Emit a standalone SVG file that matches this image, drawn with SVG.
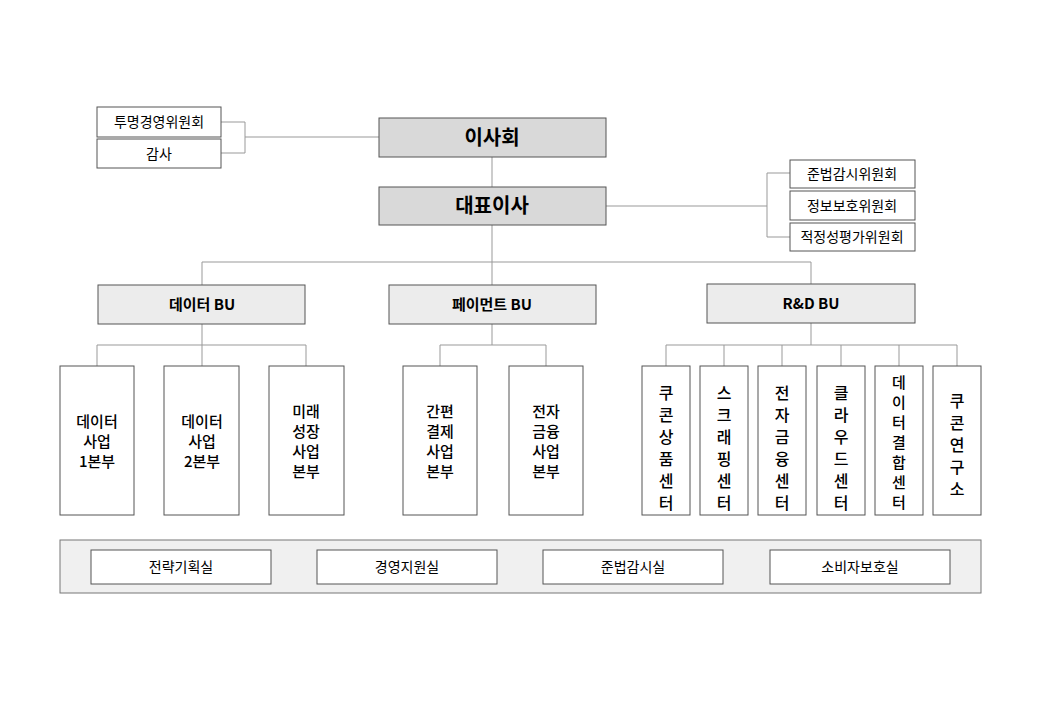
<svg xmlns="http://www.w3.org/2000/svg" width="1040" height="720" viewBox="0 0 1040 720">
<style>
text{font-family:"Noto Sans CJK KR","Noto Sans",sans-serif;fill:#000;text-anchor:middle}
.box{fill:#fff;stroke:#555;stroke-width:1}
.top{fill:#d9d9d9;stroke:#555}
.bu{fill:#ececec;stroke:#555}
.c{fill:none;stroke:#999;stroke-width:1}
.s{font-size:14px}
.t{font-size:20px;font-weight:bold}
.b{font-size:15px;font-weight:bold}
.v{font-size:15px;font-weight:500}
.w{font-size:16px;font-weight:500}
.x{font-size:15px;font-weight:500}
</style>
<rect width="1040" height="720" fill="#fff"/>
<g id="connectors" class="c">
<path d="M221 122H245V153H221M245 137H379"/>
<path d="M492 157V187"/>
<path d="M606 206H767M790 173H767V237H790"/>
<path d="M492 225V285M202 262H811V284M202 262V285"/>
<path d="M202 324V345M97 366V345H306V366M202 345V366"/>
<path d="M492 324V345M440 366V345H546V366"/>
<path d="M811 323V345M666 366V345H957V366M724 345V366M782 345V366M841 345V366M899 345V366"/>
</g>
<g id="n1"><rect class="box" x="97" y="107" width="124" height="30"/><text class="s" x="159" y="127">투명경영위원회</text></g>
<g id="n2"><rect class="box" x="97" y="139" width="124" height="29"/><text class="s" x="159" y="159">감사</text></g>
<g id="board"><rect class="top" x="379" y="118" width="227" height="39"/><text class="t" x="492" y="145">이사회</text></g>
<g id="ceo"><rect class="top" x="379" y="187" width="227" height="38"/><text class="t" x="492" y="213">대표이사</text></g>
<g id="r1"><rect class="box" x="790" y="160" width="125" height="28"/><text class="s" x="852" y="179">준법감시위원회</text></g>
<g id="r2"><rect class="box" x="790" y="191" width="125" height="29"/><text class="s" x="852" y="211">정보보호위원회</text></g>
<g id="r3"><rect class="box" x="790" y="223" width="125" height="28"/><text class="s" x="852" y="242">적정성평가위원회</text></g>
<g id="bu1"><rect class="bu" x="98" y="285" width="207" height="39"/><text class="b" x="202" y="310">데이터 BU</text></g>
<g id="bu2"><rect class="bu" x="389" y="285" width="207" height="39"/><text class="b" x="492" y="310">페이먼트 BU</text></g>
<g id="bu3"><rect class="bu" x="707" y="284" width="208" height="39"/><text class="b" x="811" y="309">R&amp;D BU</text></g>
<g id="d1"><rect class="box" x="60" y="366" width="74" height="149"/><text class="v" x="97" y="427">데이터</text><text class="v" x="97" y="447">사업</text><text class="v" x="97" y="467">1본부</text></g>
<g id="d2"><rect class="box" x="164" y="366" width="75" height="149"/><text class="v" x="202" y="427">데이터</text><text class="v" x="202" y="447">사업</text><text class="v" x="202" y="467">2본부</text></g>
<g id="d3"><rect class="box" x="269" y="366" width="75" height="149"/><text class="v" x="306" y="417">미래</text><text class="v" x="306" y="437">성장</text><text class="v" x="306" y="457">사업</text><text class="v" x="306" y="477">본부</text></g>
<g id="p1"><rect class="box" x="403" y="366" width="74" height="149"/><text class="v" x="440" y="417">간편</text><text class="v" x="440" y="437">결제</text><text class="v" x="440" y="457">사업</text><text class="v" x="440" y="477">본부</text></g>
<g id="p2"><rect class="box" x="509" y="366" width="74" height="149"/><text class="v" x="546" y="417">전자</text><text class="v" x="546" y="437">금융</text><text class="v" x="546" y="457">사업</text><text class="v" x="546" y="477">본부</text></g>
<g id="c1"><rect class="box" x="642" y="366" width="48" height="149"/><text class="w" x="666" y="399">쿠</text><text class="w" x="666" y="421">콘</text><text class="w" x="666" y="443">상</text><text class="w" x="666" y="465">품</text><text class="w" x="666" y="487">센</text><text class="w" x="666" y="509">터</text></g>
<g id="c2"><rect class="box" x="700" y="366" width="48" height="149"/><text class="w" x="724" y="399">스</text><text class="w" x="724" y="421">크</text><text class="w" x="724" y="443">래</text><text class="w" x="724" y="465">핑</text><text class="w" x="724" y="487">센</text><text class="w" x="724" y="509">터</text></g>
<g id="c3"><rect class="box" x="758" y="366" width="48" height="149"/><text class="w" x="782" y="399">전</text><text class="w" x="782" y="421">자</text><text class="w" x="782" y="443">금</text><text class="w" x="782" y="465">융</text><text class="w" x="782" y="487">센</text><text class="w" x="782" y="509">터</text></g>
<g id="c4"><rect class="box" x="817" y="366" width="48" height="149"/><text class="w" x="841" y="399">클</text><text class="w" x="841" y="421">라</text><text class="w" x="841" y="443">우</text><text class="w" x="841" y="465">드</text><text class="w" x="841" y="487">센</text><text class="w" x="841" y="509">터</text></g>
<g id="c5"><rect class="box" x="875" y="366" width="48" height="149"/><text class="x" x="899" y="388">데</text><text class="x" x="899" y="408">이</text><text class="x" x="899" y="428">터</text><text class="x" x="899" y="448">결</text><text class="x" x="899" y="468">합</text><text class="x" x="899" y="488">센</text><text class="x" x="899" y="508">터</text></g>
<g id="c6"><rect class="box" x="933" y="366" width="48" height="149"/><text class="w" x="957" y="407">쿠</text><text class="w" x="957" y="429">콘</text><text class="w" x="957" y="451">연</text><text class="w" x="957" y="473">구</text><text class="w" x="957" y="495">소</text></g>
<g id="staff"><rect x="60" y="540" width="921" height="53" fill="#f0f0f0" stroke="#777"/></g>
<g id="s1"><rect class="box" x="91" y="550" width="180" height="34"/><text class="s" x="181" y="572">전략기획실</text></g>
<g id="s2"><rect class="box" x="317" y="550" width="180" height="34"/><text class="s" x="407" y="572">경영지원실</text></g>
<g id="s3"><rect class="box" x="543" y="550" width="180" height="34"/><text class="s" x="633" y="572">준법감시실</text></g>
<g id="s4"><rect class="box" x="770" y="550" width="180" height="34"/><text class="s" x="860" y="572">소비자보호실</text></g>
</svg>
